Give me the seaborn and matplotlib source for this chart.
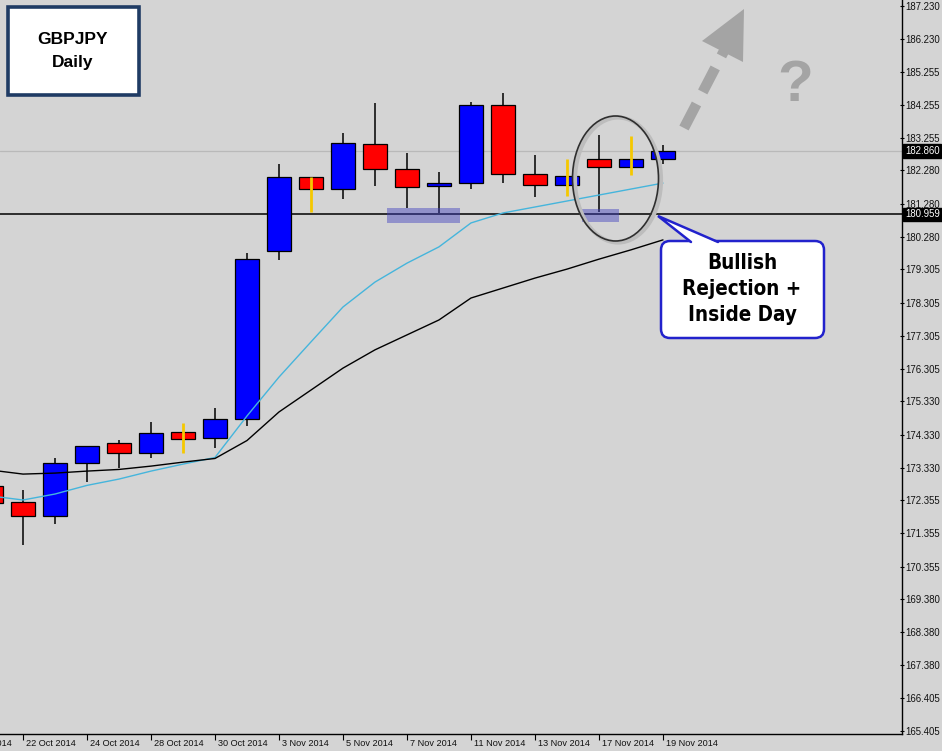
import numpy as np
import pandas as pd
import matplotlib
matplotlib.use("Agg")
import matplotlib.pyplot as plt
import matplotlib.transforms as mtransforms
from matplotlib.patches import Rectangle, Ellipse, FancyBboxPatch, Polygon
from matplotlib.lines import Line2D
import seaborn as sns

# ---------------- data ----------------
session_days = ["20 Oct 2014", "21 Oct 2014", "22 Oct 2014", "23 Oct 2014", "24 Oct 2014",
                "27 Oct 2014", "28 Oct 2014", "29 Oct 2014", "30 Oct 2014", "31 Oct 2014",
                "3 Nov 2014", "4 Nov 2014", "5 Nov 2014", "6 Nov 2014", "7 Nov 2014",
                "10 Nov 2014", "11 Nov 2014", "12 Nov 2014", "13 Nov 2014", "14 Nov 2014",
                "17 Nov 2014", "18 Nov 2014", "19 Nov 2014"]
candle_days = session_days[1:]

opens  = [172.78, 172.29, 171.89, 173.46, 174.08, 173.77, 174.40, 174.22, 174.79, 179.85, 182.07,
          181.71, 183.07, 182.31, 181.82, 181.89, 184.25, 182.16, 181.83, 182.62, 182.37, 182.62]
highs  = [172.90, 172.66, 173.63, 174.00, 174.17, 174.71, 174.67, 175.14, 179.80, 182.47, 182.08,
          183.42, 184.32, 182.81, 182.24, 184.33, 184.62, 182.74, 182.62, 183.35, 183.33, 183.05]
lows   = [172.06, 171.00, 171.64, 172.91, 173.31, 173.63, 173.78, 173.93, 174.59, 179.58, 181.04,
          181.42, 181.81, 181.16, 181.01, 181.71, 181.91, 181.49, 181.51, 181.04, 182.14, 182.47]
closes = [172.28, 171.89, 173.48, 173.98, 173.77, 174.37, 174.20, 174.80, 179.61, 182.07, 181.71,
          183.11, 182.31, 181.79, 181.89, 184.25, 182.16, 181.83, 182.10, 182.37, 182.62, 182.86]
pattern_flag = [0, 0, 0, 0, 0, 0, 1, 0, 0, 0, 1, 0, 0, 0, 0, 0, 0, 0, 1, 0, 1, 0]

ma_fast = [172.48, 172.36, 172.54, 172.80, 172.99, 173.23, 173.44, 173.64, 174.89, 176.06, 177.12,
           178.17, 178.92, 179.49, 179.98, 180.70, 181.00, 181.18, 181.36, 181.54, 181.72, 181.90]
ma_slow = [173.26, 173.14, 173.17, 173.23, 173.28, 173.38, 173.50, 173.61, 174.15, 175.01, 175.67,
           176.33, 176.88, 177.33, 177.78, 178.44, 178.74, 179.04, 179.31, 179.61, 179.89, 180.19]

price_ticks = [187.230, 186.230, 185.255, 184.255, 183.255, 182.280, 181.280, 180.280, 179.305,
               178.305, 177.305, 176.305, 175.330, 174.330, 173.330, 172.355, 171.355, 170.355,
               169.380, 168.380, 167.380, 166.405, 165.405]
level_price = 180.959
last_price = 182.860

# ---------------- style ----------------
BG = "#d4d4d4"
sns.set_theme(style="white")
plt.rcParams["font.family"] = ["Liberation Sans", "DejaVu Sans"]

W, H = 942, 751
fig = plt.figure(figsize=(W / 100, H / 100), dpi=100, facecolor=BG)
ax = fig.add_axes([0, 17 / H, 902 / W, 734 / H])
ax.set_facecolor(BG)

# pixel transform for annotations (image pixel coords, y downward)
PX = mtransforms.Affine2D().scale(1 / W, -1 / H).translate(0, 1) + fig.transFigure

xpos_all = np.arange(len(session_days))
x = xpos_all[1:]
df = pd.DataFrame({"x": x, "day": candle_days, "open": opens, "high": highs, "low": lows,
                   "close": closes, "flag": pattern_flag, "fast": ma_fast, "slow": ma_slow})
df["bull"] = df["close"] >= df["open"]
df["bottom"] = df[["open", "close"]].min(axis=1)
df["height"] = (df["close"] - df["open"]).abs()

norm = df[df["flag"] == 0]
flag = df[df["flag"] == 1]
ax.vlines(norm["x"], norm["low"], norm["high"], color="black", lw=1.1, zorder=2)
ax.bar(df["x"], df["height"], bottom=df["bottom"], width=0.76,
       color=np.where(df["bull"], "#0000ff", "#ff0000"), edgecolor="black", linewidth=0.9, zorder=3)
ax.vlines(flag["x"], flag["low"], flag["high"], color="#f5c800", lw=2.0, zorder=4)

sns.lineplot(data=df, x="x", y="fast", ax=ax, color="#45b5dc", lw=1.0, zorder=5)
sns.lineplot(data=df, x="x", y="slow", ax=ax, color="black", lw=1.0, zorder=5)

ax.axhline(last_price, color="#b9b9b9", lw=0.9, zorder=1)
ax.axhline(level_price, color="black", lw=1.1, zorder=1)

# highlight rectangles (support zone)
hl = dict(facecolor="#4040c0", alpha=0.45, edgecolor="none", zorder=6)
fig.add_artist(Rectangle((387, 208), 73, 15, transform=PX, **hl))
fig.add_artist(Rectangle((582, 209), 37, 13, transform=PX, **hl))

# axes limits
ax.set_xlim(1.281, 29.47)
ax.set_ylim(165.316, 187.411)

for s in ["left", "top"]:
    ax.spines[s].set_visible(False)
for s in ["right", "bottom"]:
    ax.spines[s].set_visible(True)
    ax.spines[s].set_color("black")
    ax.spines[s].set_linewidth(1.0)

ax.yaxis.tick_right()
ax.set_yticks(price_ticks)
ax.set_yticklabels([f"{v:.3f}" for v in price_ticks])
ax.tick_params(axis="y", right=True, left=False, length=3, width=0.8, color="black",
               direction="inout", labelsize=6.9, pad=0.6, labelcolor="#111111")
ax.set_xlabel("")
ax.set_ylabel("")

label_idx = list(range(0, len(session_days), 2))
ax.set_xticks([xpos_all[i] for i in label_idx if xpos_all[i] > 1.281])
ax.set_xticklabels([])
ax.tick_params(axis="x", bottom=True, length=4, width=0.8, color="black", direction="out")
blend = mtransforms.blended_transform_factory(ax.transData, ax.transAxes)
shift = mtransforms.ScaledTranslation(3 / 100, 0, fig.dpi_scale_trans)
for i in label_idx:
    ax.text(xpos_all[i], -10 / 734, session_days[i], transform=blend + shift, ha="left",
            va="center", fontsize=6.6, color="#111111", clip_on=False)

# price boxes on the right axis
rblend = mtransforms.blended_transform_factory(ax.transAxes, ax.transData)
rshift = mtransforms.ScaledTranslation(3 / 100, 0, fig.dpi_scale_trans)
for p in [last_price, level_price]:
    ax.text(1.0, p, f"{p:.3f}", transform=rblend + rshift, ha="left", va="center",
            fontsize=6.9, color="white", clip_on=False,
            bbox=dict(boxstyle="square,pad=0.18", fc="black", ec="black"))

# title box
fig.add_artist(Rectangle((8, 7), 131, 88, transform=PX, facecolor="white",
                         edgecolor="#1f3b64", lw=2.6, zorder=10))
fig.text(73 / W, 1 - 40 / H, "GBPJPY", ha="center", va="center", fontsize=12.5,
         fontweight="bold", color="black", zorder=11)
fig.text(73 / W, 1 - 62 / H, "Daily", ha="center", va="center", fontsize=12.5,
         fontweight="bold", color="black", zorder=11)

# ellipse around the rejection candle
fig.add_artist(Ellipse((618, 180), 86, 125, transform=PX, facecolor="none",
                       edgecolor="#bdbdbd", lw=3.0, zorder=7))
fig.add_artist(Ellipse((615.5, 178.5), 86, 125, transform=PX, facecolor="none",
                       edgecolor="#2e2e2e", lw=1.2, zorder=8))

# callout
BLUE = "#2222cc"
fig.add_artist(FancyBboxPatch((661, 241), 163, 97, transform=PX,
                              boxstyle="round,pad=0,rounding_size=9",
                              facecolor="white", edgecolor=BLUE, lw=1.8, zorder=10))
fig.add_artist(Polygon([(658, 216), (691, 243), (718, 243)], closed=True, transform=PX,
                       facecolor="white", edgecolor="none", zorder=11))
fig.add_artist(Line2D([691, 658, 718], [242, 216, 242], transform=PX, color=BLUE, lw=1.8,
                      zorder=12, solid_joinstyle="miter"))
fig.text(742 / W, 1 - 289 / H, "Bullish\nRejection +\nInside Day", ha="center", va="center",
         fontsize=14.8, fontweight="bold", fontstretch="condensed", linespacing=1.35,
         family=["DejaVu Sans"], color="black", zorder=13)

# dashed arrow and question mark
GRAY = "#a4a4a4"
fig.add_artist(Line2D([684, 724], [128, 51], transform=PX, color=GRAY, lw=7.5,
                      dashes=[2.6, 1.3], solid_capstyle="butt", dash_capstyle="butt", zorder=9))
fig.add_artist(Polygon([(744, 9), (702, 41), (743, 62)], closed=True, transform=PX,
                       facecolor=GRAY, edgecolor="none", zorder=9))
fig.text(795 / W, 1 - 86 / H, "?", ha="center", va="center", fontsize=42, fontweight="bold",
         color=GRAY, zorder=9)

fig.savefig("out.png", dpi=100, facecolor=BG)
